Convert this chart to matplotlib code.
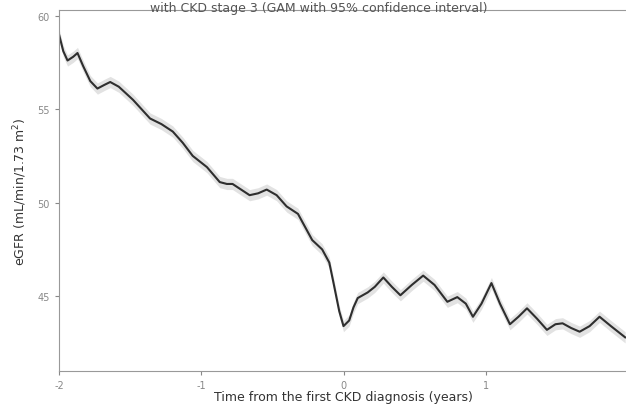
import numpy as np
import matplotlib.pyplot as plt

plt.rcParams['axes.unicode_minus'] = False

# values (years from CKD diagnosis, eGFR)
years = [-2.0, -1.97, -1.94, -1.90, -1.87, -1.83, -1.78, -1.73, -1.68, -1.64,
         -1.58, -1.48, -1.42, -1.36, -1.28, -1.20, -1.13, -1.06, -0.96, -0.87,
         -0.82, -0.78, -0.72, -0.66, -0.60, -0.54, -0.47, -0.40, -0.32, -0.22,
         -0.15, -0.10, -0.07, -0.03, 0.0, 0.04, 0.07, 0.10, 0.17, 0.22, 0.28, 0.34,
         0.40, 0.48, 0.56, 0.64, 0.73, 0.80, 0.86, 0.91, 0.97, 1.04,
         1.10, 1.17, 1.23, 1.29, 1.36, 1.43, 1.49, 1.54, 1.60, 1.66,
         1.73, 1.80, 1.88, 1.98]
egfr = [59.0, 58.1, 57.6, 57.8, 58.0, 57.3, 56.5, 56.1, 56.3, 56.45,
        56.2, 55.5, 55.0, 54.5, 54.2, 53.8, 53.2, 52.5, 51.9, 51.1,
        51.0, 51.0, 50.7, 50.4, 50.5, 50.7, 50.4, 49.8, 49.4, 48.0,
        47.5, 46.8, 45.7, 44.2, 43.4, 43.7, 44.4, 44.9, 45.2, 45.5, 46.0, 45.5,
        45.05, 45.6, 46.1, 45.6, 44.7, 44.95, 44.6, 43.9, 44.6, 45.7,
        44.6, 43.5, 43.9, 44.35, 43.8, 43.2, 43.5, 43.55, 43.3, 43.1,
        43.4, 43.9, 43.4, 42.8]
ci_half = 0.3

years = np.array(years)
egfr = np.array(egfr)

fig = plt.figure(figsize=(6.26, 4.06), dpi=100)
ax = fig.add_axes([59 / 626, 34 / 406, 569 / 626, 361 / 406])

ax.fill_between(years, egfr - ci_half, egfr + ci_half, color='#cfcfcf', alpha=0.6, lw=0)
ax.plot(years, egfr, color='#2e2e2e', lw=1.5, solid_joinstyle='round')

ax.set_xlim(-2, 2)
ax.set_ylim(41.0, 60.3)
ax.set_xticks([-2, -1, 0, 1])
ax.set_yticks([45, 50, 55, 60])
ax.tick_params(labelsize=7, colors='#888888', length=3, labelcolor='#888888')
for side in ['left', 'bottom', 'top']:
    ax.spines[side].set_color('#999999')
ax.spines['right'].set_visible(False)

ax.set_xlabel('Time from the first CKD diagnosis (years)', fontsize=9, color='#333333', labelpad=0)
ax.set_ylabel('eGFR (mL/min/1.73 m$^2$)', fontsize=9, color='#333333', labelpad=6)

fig.text(0.24, 0.995, 'with CKD stage 3 (GAM with 95% confidence interval)', fontsize=9,
         color='#555555', va='top')

fig.savefig('out.png', dpi=100)
